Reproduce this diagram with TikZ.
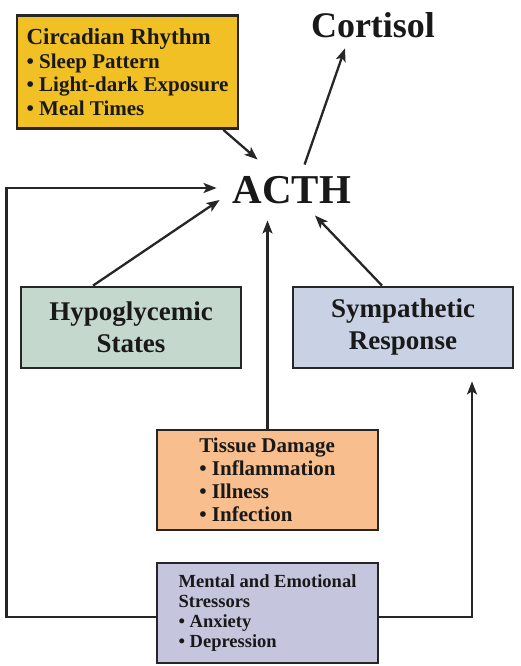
\documentclass[tikz,border=0pt]{standalone}
\usepackage{fontspec}
\setmainfont{Liberation Serif}
\usetikzlibrary{arrows.meta}

\definecolor{circgold}{RGB}{240,192,36}
\definecolor{hypogreen}{RGB}{197,216,205}
\definecolor{sympblue}{RGB}{200,210,228}
\definecolor{tisspeach}{RGB}{248,190,142}
\definecolor{mentlav}{RGB}{197,197,222}

\tikzset{
box/.style={draw=black!85, line width=2.8pt, inner sep=0pt, text=black!90},
arr/.style={draw=black!85, line width=2.3pt, -{Stealth[length=13pt,width=10pt,inset=3pt]}},
bigtext/.style={inner sep=0pt, text=black!90, font=\bfseries\fontsize{#1}{#1}\selectfont}
}

\begin{document}
\begin{tikzpicture}[x=1pt, y=-1pt]
\useasboundingbox [fill=white] (0,0) rectangle (521,666);
\node [bigtext=36] (cort) at (373,25) {Cortisol};
\node [bigtext=41] (acth) at (292,190) {ACTH};
\node [box, fill=circgold, minimum width=221pt, minimum height=113pt, align=left, font=\bfseries\fontsize{21}{23.5}\selectfont] (circ) at (127.5,72) {{\fontsize{23}{23.5}\selectfont Circadian Rhythm}\\ \textbullet\ Sleep Pattern\\ \textbullet\ Light-dark Exposure\\ \textbullet\ Meal Times};
\node [box, fill=hypogreen, minimum width=220pt, minimum height=81pt, align=center, font=\bfseries\fontsize{27}{32}\selectfont] (hypo) at (131,327.5) {Hypoglycemic\\ States};
\node [box, fill=sympblue, minimum width=220pt, minimum height=81pt, align=center, font=\bfseries\fontsize{27}{32}\selectfont] (symp) at (403,327.5) {Sympathetic\\ Response};
\node [box, fill=tisspeach, minimum width=221pt, minimum height=100pt, align=left, font=\bfseries\fontsize{21}{23}\selectfont] (tiss) at (267.5,480) {Tissue Damage\\ \textbullet\ Inflammation\\ \textbullet\ Illness\\ \textbullet\ Infection};
\node [box, fill=mentlav, minimum width=221pt, minimum height=100pt, align=left, font=\bfseries\fontsize{18.5}{20}\selectfont] (ment) at (267.5,613) {Mental and Emotional\\ Stressors\\ \textbullet\ Anxiety\\ \textbullet\ Depression};
\coordinate (acthb) at ([yshift=-16.5pt]acth.south);
\draw [arr] ([xshift=-16pt]circ.south east) -- ([xshift=25pt,yshift=16.5pt]acth.north west);
\draw [arr] ([xshift=72pt,yshift=11.5pt]acth.north west) -- ([xshift=-28pt,yshift=-10.5pt]cort.south);
\draw [arr] ([yshift=-4pt]ment.west) -- ++(-149,0) |- ([xshift=-16pt,yshift=2pt]acth.west);
\draw [arr] ([yshift=-4pt]ment.east) -| ([xshift=69pt,yshift=-12pt]symp.south);
\draw [arr] ([xshift=-38pt]hypo.north) -- ([xshift=-13pt,yshift=-10pt]acth.west);
\draw [arr] ([xshift=-21pt]symp.north) -- ([xshift=23pt,yshift=-11.5pt]acth.south);
\draw [arr] (tiss.north) -- (tiss.north |- acthb);
\end{tikzpicture}
\end{document}
